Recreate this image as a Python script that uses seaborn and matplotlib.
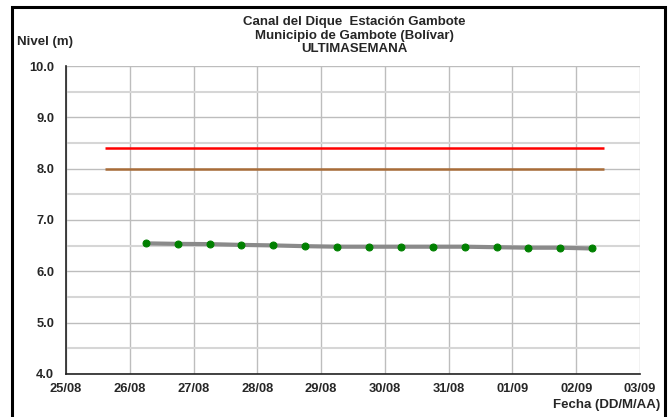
import numpy as np
import pandas as pd
import matplotlib
matplotlib.use('Agg')
import matplotlib.pyplot as plt
import matplotlib.dates as mdates
from matplotlib.patches import Rectangle
import seaborn as sns

# niveles cada 12 horas
fechas = pd.date_range('2014-08-26 06:00', periods=15, freq='12h')
niveles = [6.545, 6.535, 6.53, 6.515, 6.505, 6.49, 6.48, 6.48, 6.48, 6.48,
           6.48, 6.47, 6.46, 6.46, 6.445]

# cotas de referencia
cota_roja = 8.4
cota_naranja = 8.0
inicio_cotas = pd.Timestamp('2014-08-25 14:30')
fin_cotas = pd.Timestamp('2014-09-02 10:20')

titulo = ['Canal del Dique  Estación Gambote',
          'Municipio de Gambote (Bolívar)',
          'ULTIMASEMANA']

sns.set_style('white')
plt.rcParams['font.family'] = ['Liberation Sans', 'DejaVu Sans']
plt.rcParams['font.weight'] = 'bold'

df = pd.DataFrame({'fecha': fechas, 'nivel': niveles})

fig = plt.figure(figsize=(6.7, 4.17), dpi=100)
ax = fig.add_axes([66 / 670, 43 / 417, 574 / 670, 308 / 417])

ax.set_ylim(4.0, 10.0)
ax.set_xlim(pd.Timestamp('2014-08-25'), pd.Timestamp('2014-09-03'))
ax.set_yticks(np.arange(4.0, 10.01, 1.0))
ax.set_yticks(np.arange(4.5, 10.0, 1.0), minor=True)
ax.yaxis.set_major_formatter(matplotlib.ticker.FormatStrFormatter('%.1f'))
ax.xaxis.set_major_locator(mdates.DayLocator())
ax.xaxis.set_major_formatter(mdates.DateFormatter('%d/%m'))

ax.grid(True, which='major', axis='both', color='#bdbdbd', linewidth=1.0)
ax.grid(True, which='minor', axis='y', color='#d6d6d6', linewidth=1.5)
ax.set_axisbelow(True)

ax.hlines(cota_roja, inicio_cotas, fin_cotas, color='#ff0000', linewidth=1.8, zorder=3)
ax.hlines(cota_naranja, inicio_cotas, fin_cotas, color='#a86c38', linewidth=1.8, zorder=3)

sns.lineplot(data=df, x='fecha', y='nivel', ax=ax, color='#8a8a8a', linewidth=3,
             marker='o', markersize=5, markerfacecolor='#008000',
             markeredgecolor='#008000', zorder=4)

ax.set_xlabel('')
ax.set_ylabel('')
for s in ['top', 'right']:
    ax.spines[s].set_visible(False)
for s in ['left', 'bottom']:
    ax.spines[s].set_color('#222222')
    ax.spines[s].set_linewidth(1.2)
ax.tick_params(axis='both', which='major', direction='out', length=3.5, width=1,
               color='#222222', labelsize=9.3)
ax.tick_params(axis='y', which='major', pad=5)
ax.tick_params(axis='x', which='major', pad=3)
ax.tick_params(axis='y', which='minor', length=0)
for lbl in ax.get_xticklabels() + ax.get_yticklabels():
    lbl.set_fontweight('bold')

for linea, y in zip(titulo, [22, 35.5, 49]):
    fig.text(354 / 670, 1 - y / 417, linea, ha='center', va='center', fontsize=9.5,
             fontweight='bold')
fig.text(17 / 670, 1 - 42 / 417, 'Nivel (m)', ha='left', va='center', fontsize=9.5,
         fontweight='bold')
fig.text(660 / 670, 1 - 405 / 417, 'Fecha (DD/M/AA)', ha='right', va='center',
         fontsize=9.5, fontweight='bold')

# texto cortado arriba y marco
fig.text(0, 1 + 9 / 417, 'Municipio de Gambote', ha='left', va='baseline',
         fontsize=16, color='#888888')
fig.add_artist(Rectangle((11.5 / 670, -0.05), (665 - 11.5) / 670, 1 - 7 / 417 + 0.05,
                         transform=fig.transFigure, fill=False,
                         edgecolor='black', linewidth=2.2))

plt.savefig('out.png', dpi=100)
